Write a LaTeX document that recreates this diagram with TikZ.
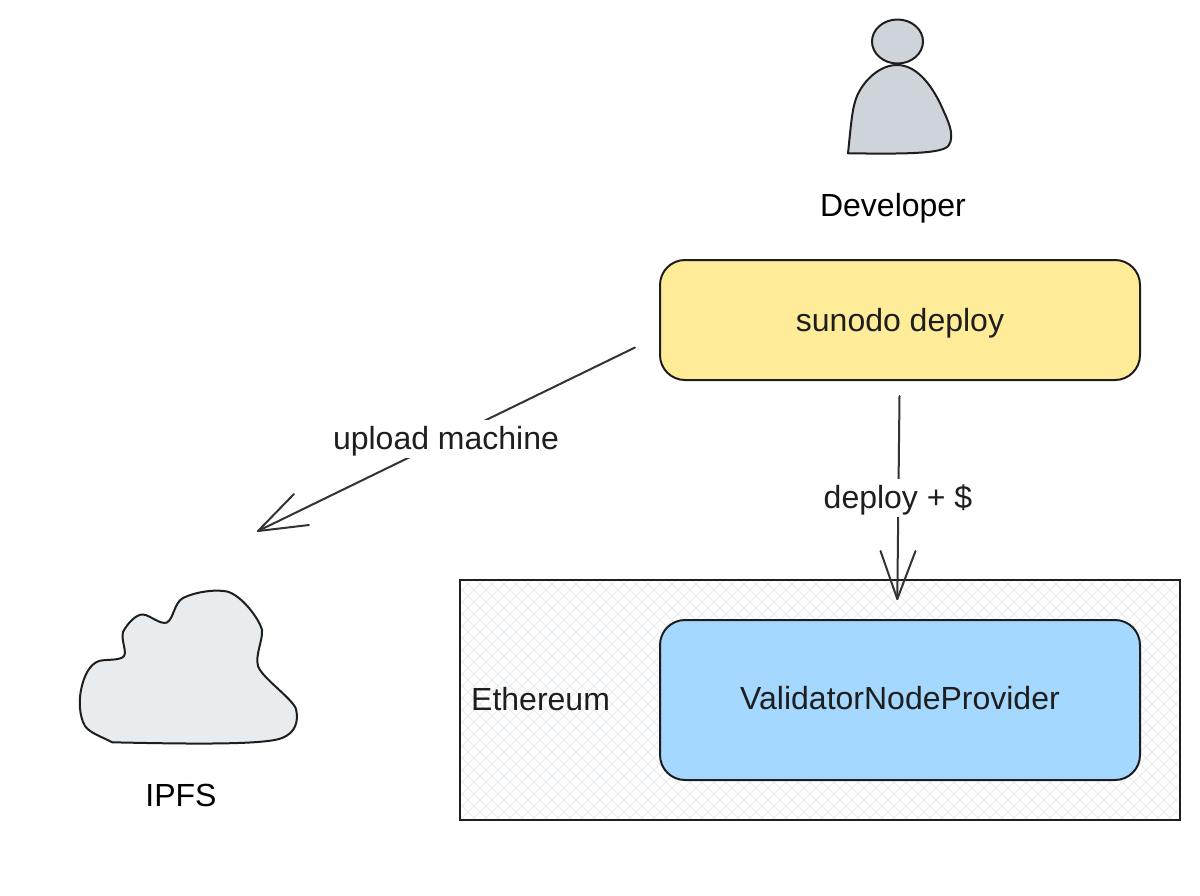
\documentclass[tikz,border=0pt]{standalone}
\usepackage{fontspec}
\setmainfont{Liberation Sans}
\usetikzlibrary{shapes.geometric,patterns}
\definecolor{ink}{HTML}{1E1E1E}
\definecolor{arrowink}{HTML}{333333}
\definecolor{personfill}{HTML}{CED4DA}
\definecolor{cloudfill}{HTML}{E9ECEF}
\definecolor{hatchcol}{HTML}{E9ECEF}
\definecolor{yellowbox}{HTML}{FFEC99}
\definecolor{bluebox}{HTML}{A5D8FF}
\tikzset{
  x=1pt,y=-1pt,
  outline/.style={draw=ink,line width=2pt,line join=round},
  roundbox/.style={outline,rounded corners=25pt,minimum width=480pt,inner sep=0pt,font=\fontsize{32}{36}\selectfont,text=ink},
  lab/.style={inner sep=0pt,font=\fontsize{32}{36}\selectfont,text=ink},
  gaplab/.style={lab,fill=white,inner xsep=1pt,inner ysep=2pt,text height=27pt,text depth=7pt},
  conn/.style={draw=arrowink,line width=2pt,line cap=round,line join=round},
  hatch/.style={draw=hatchcol,line width=1pt},
}
\begin{document}
\begin{tikzpicture}
\useasboundingbox (0,0) rectangle (1200,895);
\fill[white] (0,0) rectangle (1200,895);
% Ethereum frame with hatching
\begin{scope}
\clip (460,580) rectangle (1180,820);
\foreach \k in {0,12,...,1000}{
  \draw[hatch] (460+\k,580) -- ++(-300,300);
  \draw[hatch] (460+\k-260,580) -- ++(300,300);
}
\end{scope}
\node[draw=ink,line width=2pt,minimum width=720pt,minimum height=240pt,inner sep=0pt] (eth) at (820,700) {};
\node[lab,anchor=west] (ethlab) at (471,699) {Ethereum};
\node[roundbox,fill=bluebox,minimum height=160pt,text height=26pt,text depth=7pt] (vnp) at (900,700) {ValidatorNodeProvider};
\node[roundbox,fill=yellowbox,minimum height=120pt,text height=29pt,text depth=7pt] (deploy) at (900,320) {sunodo deploy};
% person
\node[ellipse,outline,fill=personfill,minimum width=51pt,minimum height=44pt,inner sep=0pt] (head) at (897.5,41.5) {};
\draw[outline,fill=personfill] (848,153.3) .. controls (851,125) and (852,108) .. (857,96)
  .. controls (864,80) and (880,65) .. (897,65)
  .. controls (918,65) and (934,88) .. (944,112)
  .. controls (950,125) and (954,136) .. (949,145)
  .. controls (944,154) and (905,154) .. (848,153.3) -- cycle;
\node[lab,text=black] (dev) at (893,208) {Developer};
% cloud
\draw[outline,fill=cloudfill] (112.3,742.3)
  .. controls (100,736) and (90,733) .. (85,726)
  .. controls (79,716) and (79,700) .. (81,690)
  .. controls (84,675) and (90,664) .. (99,661)
  .. controls (106,659) and (120,661) .. (124,656)
  .. controls (127,651) and (121,641) .. (123,632)
  .. controls (127,624) and (136,614) .. (143,614.5)
  .. controls (150,615) and (160,625) .. (167,622.5)
  .. controls (174,618) and (174,603) .. (183,598)
  .. controls (195,592) and (215,589) .. (227,591.5)
  .. controls (241,595) and (259,618) .. (262,630)
  .. controls (263,640) and (255,655) .. (258,666)
  .. controls (262,678) and (292,698) .. (296,709)
  .. controls (299,722) and (295,733) .. (282,738)
  .. controls (265,745) and (190,744) .. (112.3,742.3) -- cycle;
\node[lab,text=black] (ipfs) at (181,795) {IPFS};
% connectors
\coordinate (a1s) at (635,347.5);
\coordinate (a1t) at (258,531);
\coordinate (a1w1) at (294,494);
\coordinate (a1w2) at (309,525);
\coordinate (a2s) at (899.5,396);
\coordinate (a2t) at (897.3,599);
\coordinate (a2w1) at (880.5,551);
\coordinate (a2w2) at (915.5,551);
\draw[conn] (a1s) -- (a1t);
\draw[conn] (a1w1) -- (a1t) -- (a1w2);
\draw[conn] (a2s) -- (a2t);
\draw[conn] (a2w1) -- (a2t) -- (a2w2);
\node[gaplab] (up) at (446,439) {upload machine};
\node[gaplab] (dep) at (898,498) {deploy + \$};
\end{tikzpicture}
\end{document}
